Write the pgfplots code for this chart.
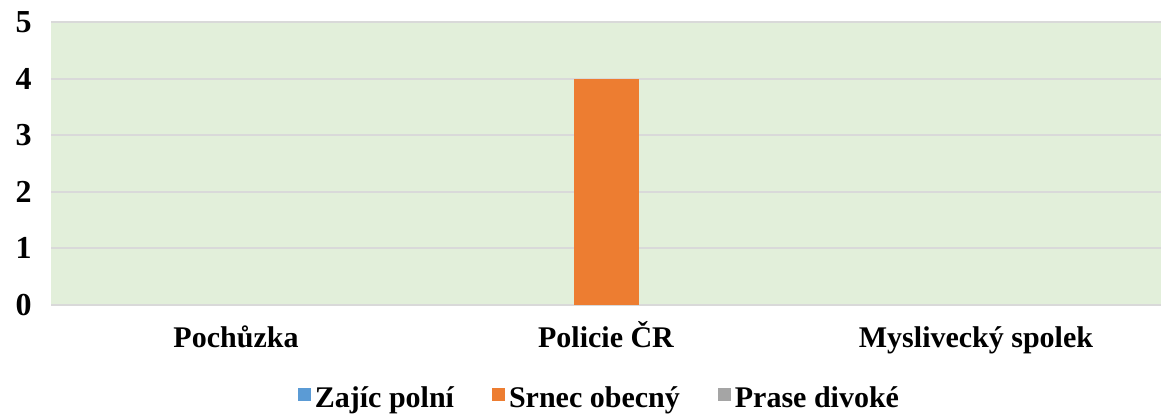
\documentclass[border=0pt]{standalone}
\usepackage{fontspec}
\setmainfont{Liberation Serif}
\usepackage{pgfplots}
\pgfplotsset{compat=1.18}
\definecolor{bg}{HTML}{E2EFDA}
\definecolor{gridc}{HTML}{D9D9D9}
\definecolor{zajic}{HTML}{5B9BD5}
\definecolor{srnec}{HTML}{ED7D31}
\definecolor{prase}{HTML}{A5A5A5}
\pgfplotsset{sq legend/.style={/pgfplots/legend image code/.code={\fill[##1] (0pt,-1.6pt) rectangle (6.5pt,4.9pt);}}}
\begin{document}
\begin{tikzpicture}[x=1pt,y=1pt]
\useasboundingbox (0,0) rectangle (580.5,208);
\begin{axis}[
    at={(25.5pt,55.5pt)}, anchor=south west,
    width=555pt, height=141.5pt, scale only axis,
    ybar=0pt, bar width=32.5pt,
    xmin=-0.5, xmax=2.5, ymin=0, ymax=5,
    xtick={0,1,2},
    xticklabels={Pochůzka, Policie ČR, Myslivecký spolek},
    ytick={0,1,2,3,4,5},
    axis background/.style={fill=bg},
    axis line style={draw=none},
    major tick length=0pt,
    ymajorgrids,
    grid style={gridc, line width=1pt},
    /pgf/number format/assume math mode=true,
    yticklabel style={font=\fontsize{16}{16}\selectfont\bfseries, anchor=east, inner sep=0pt, xshift=-9.5pt},
    xticklabel style={font=\fontsize{15}{15}\selectfont\bfseries, anchor=base, inner sep=0pt, yshift=-21.5pt},
    legend style={at={(0.495,-0.329)}, anchor=center, draw=none, fill=none,
        font=\fontsize{15}{15}\selectfont\bfseries,
        /tikz/every even column/.append style={column sep=17pt}},
    legend columns=3,
    every axis plot post/.append style={sq legend},
]
% Zajic polni and Prase divoke are 0 everywhere; Srnec obecny is 0 except Policie CR
\addlegendimage{fill=zajic, draw=none, sq legend}
\addlegendentry{Zajíc polní}
\addplot[fill=srnec, draw=none] coordinates {(1,4)};
\addlegendentry{Srnec obecný}
\addlegendimage{fill=prase, draw=none, sq legend}
\addlegendentry{Prase divoké}
\end{axis}
\end{tikzpicture}
\end{document}
